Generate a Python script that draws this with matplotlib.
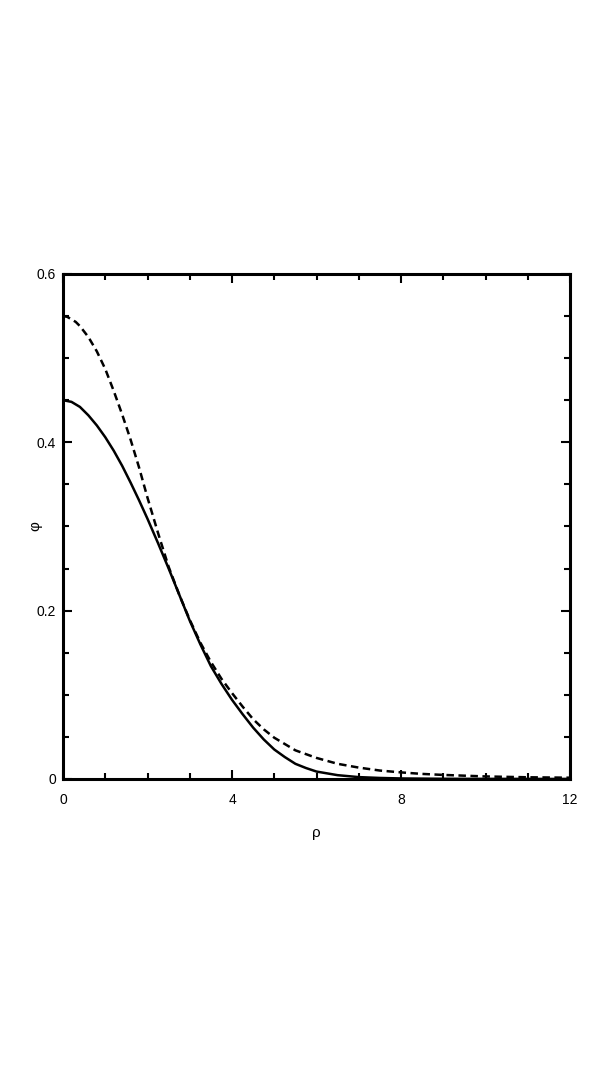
import matplotlib.pyplot as plt
from matplotlib.ticker import MultipleLocator

# profiles
rho_solid = [0, 0.2, 0.4, 0.6, 0.8, 1.0, 1.2, 1.4, 1.6, 1.8, 2.0, 2.25, 2.5, 2.75, 3.0, 3.25, 3.5, 3.75,
             4.0, 4.25, 4.5, 4.75, 5.0, 5.25, 5.5, 5.75, 6.0, 6.5, 7.0, 7.5, 8.0, 9.0, 10.0, 12.0]
phi_solid = [0.450, 0.448, 0.442, 0.432, 0.420, 0.406, 0.390, 0.372, 0.352, 0.331, 0.309, 0.280, 0.250,
             0.219, 0.188, 0.160, 0.134, 0.113, 0.094, 0.077, 0.061, 0.047, 0.035, 0.026, 0.018, 0.013,
             0.0088, 0.0045, 0.0022, 0.0012, 0.0006, 0.0002, 0.0001, 0.0]

rho_dash = [0, 0.1, 0.2, 0.3, 0.4, 0.6, 0.8, 1.0, 1.2, 1.4, 1.6, 1.8, 2.0, 2.25, 2.5, 2.75, 3.0, 3.25, 3.5,
            3.75, 4.0, 4.25, 4.5, 4.75, 5.0, 5.5, 6.0, 6.5, 7.0, 7.5, 8.0, 8.5, 9.0, 10.0, 11.0, 12.0]
phi_dash = [0.550, 0.549, 0.546, 0.543, 0.538, 0.525, 0.508, 0.487, 0.461, 0.433, 0.403, 0.370, 0.334,
            0.292, 0.252, 0.219, 0.189, 0.162, 0.139, 0.119, 0.102, 0.086, 0.071, 0.059, 0.049, 0.034,
            0.025, 0.018, 0.0135, 0.010, 0.0078, 0.006, 0.0048, 0.003, 0.002, 0.0015]

x_ticks = [0, 4, 8, 12]
y_ticks = [0, 0.2, 0.4, 0.6]
x_tick_labels = ['0', '4', '8', '12']
y_tick_labels = ['0', '0.2', '0.4', '0.6']

plt.rcParams['font.family'] = ['Liberation Sans Narrow', 'Liberation Sans', 'DejaVu Sans']

fig = plt.figure(figsize=(5.98, 10.78), dpi=100)
ax = fig.add_axes([0.1054, 0.2774, 0.8478, 0.4685])

ax.plot(rho_solid, phi_solid, color='black', lw=1.8)
ax.plot(rho_dash, phi_dash, color='black', lw=1.8, dashes=(3, 1.8))

ax.set_xlim(0, 12)
ax.set_ylim(0, 0.6)
ax.set_xticks(x_ticks, labels=x_tick_labels)
ax.set_yticks(y_ticks, labels=y_tick_labels)
ax.xaxis.set_minor_locator(MultipleLocator(1))
ax.yaxis.set_minor_locator(MultipleLocator(0.05))

for s in ax.spines.values():
    s.set_linewidth(2.2)
ax.tick_params(which='both', direction='in', top=True, right=True, width=1.5, labelsize=10)
ax.tick_params(which='major', length=6.5)
ax.tick_params(which='minor', length=4.5)
ax.tick_params(axis='x', which='major', pad=10)
ax.tick_params(axis='y', which='major', pad=5)

ax.set_xlabel('ρ', fontsize=11, labelpad=14)
ax.set_ylabel('φ', fontsize=11, labelpad=-4)

fig.savefig('out.png', dpi=100)
